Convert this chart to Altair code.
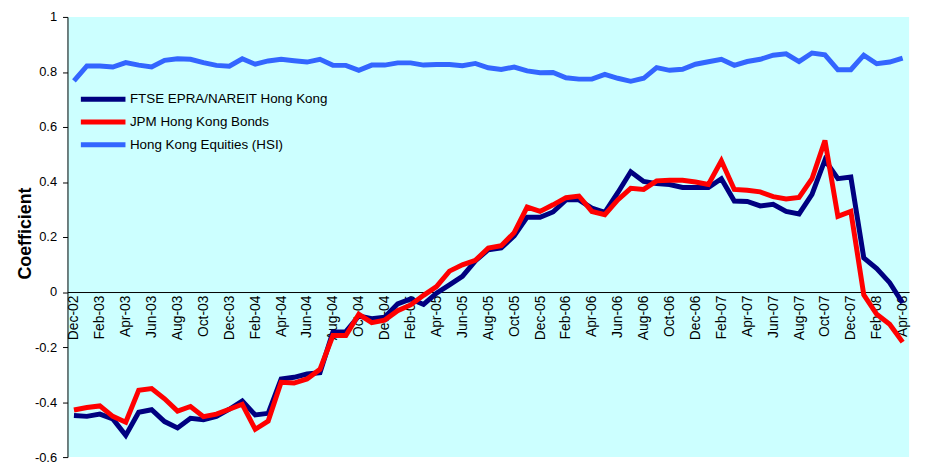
import altair as alt
import pandas as pd

months = [d.strftime("%b-%y") for d in pd.date_range("2002-12-01", periods=65, freq="MS")]

ftse = [-0.449, -0.452, -0.444, -0.461, -0.521, -0.437, -0.428, -0.471, -0.494, -0.459,
        -0.464, -0.452, -0.426, -0.396, -0.447, -0.441, -0.316, -0.310, -0.298, -0.293,
        -0.145, -0.144, -0.087, -0.097, -0.092, -0.043, -0.025, -0.045, -0.004, 0.026,
        0.057, 0.113, 0.154, 0.160, 0.204, 0.272, 0.272, 0.291, 0.335, 0.335,
        0.305, 0.290, 0.361, 0.437, 0.402, 0.394, 0.391, 0.380, 0.380, 0.380,
        0.412, 0.331, 0.329, 0.313, 0.319, 0.293, 0.284, 0.355, 0.480, 0.412,
        0.418, 0.124, 0.085, 0.034, -0.040]

jpm = [-0.429, -0.420, -0.414, -0.452, -0.473, -0.357, -0.351, -0.388, -0.433, -0.416,
       -0.453, -0.444, -0.426, -0.408, -0.499, -0.469, -0.328, -0.331, -0.316, -0.281,
       -0.158, -0.158, -0.081, -0.111, -0.102, -0.068, -0.047, -0.012, 0.020, 0.076,
       0.099, 0.115, 0.160, 0.168, 0.216, 0.309, 0.293, 0.317, 0.343, 0.349,
       0.293, 0.281, 0.335, 0.377, 0.373, 0.404, 0.406, 0.406, 0.400, 0.391,
       0.477, 0.373, 0.370, 0.364, 0.347, 0.338, 0.344, 0.412, 0.551, 0.275,
       0.293, -0.010, -0.081, -0.117, -0.182]

hsi = [0.768, 0.822, 0.822, 0.818, 0.834, 0.825, 0.818, 0.842, 0.848, 0.846,
       0.834, 0.824, 0.821, 0.848, 0.828, 0.840, 0.846, 0.841, 0.836, 0.846,
       0.824, 0.824, 0.806, 0.825, 0.825, 0.833, 0.833, 0.825, 0.827, 0.827,
       0.823, 0.831, 0.815, 0.809, 0.818, 0.804, 0.797, 0.798, 0.779, 0.774,
       0.774, 0.791, 0.777, 0.766, 0.777, 0.816, 0.806, 0.810, 0.828, 0.837,
       0.846, 0.824, 0.838, 0.846, 0.861, 0.866, 0.838, 0.869, 0.862, 0.808,
       0.808, 0.861, 0.830, 0.836, 0.850]

series_names = ["FTSE EPRA/NAREIT Hong Kong", "JPM Hong Kong Bonds", "Hong Kong Equities (HSI)"]
series_colors = ["#000080", "#FF0000", "#3366FF"]
y_ticks = [-0.6, -0.4, -0.2, 0, 0.2, 0.4, 0.6, 0.8, 1]

rows = []
for name, vals in zip(series_names, [ftse, jpm, hsi]):
    for m, v in zip(months, vals):
        rows.append({"month": m, "series": name, "value": v})
df = pd.DataFrame(rows)

W, H = 849, 444
TOP = 7
FONT = "Liberation Sans"
zero_px = H * (1.0 - 0.0) / 1.6
x_offset = -(H - zero_px)

chart = alt.Chart(df).mark_line(strokeWidth=5).encode(
    x=alt.X(
        "month:N",
        sort=months,
        scale=alt.Scale(type="point", padding=0.5),
        axis=alt.Axis(
            values=months[::2],
            labelAngle=-90,
            ticks=False,
            domain=True,
            domainColor="black",
            domainWidth=1,
            offset=x_offset,
            title=None,
            labelFont=FONT,
            labelFontSize=14,
            labelColor="black",
            labelPadding=3,
            grid=False,
        ),
    ),
    y=alt.Y(
        "value:Q",
        scale=alt.Scale(domain=[-0.6, 1], nice=False, zero=False),
        axis=alt.Axis(
            values=y_ticks,
            labelExpr="replace(format(datum.value, '.1~f'), '\u2212', '-')",
            title="Coefficient",
            titleFont=FONT,
            titleFontSize=18,
            titleFontWeight="bold",
            titleColor="black",
            titleX=-37,
            titleY=233 - 8 - TOP,
            titleAlign="center",
            titleBaseline="alphabetic",
            titleAngle=270,
            labelFont=FONT,
            labelFontSize=13,
            labelColor="black",
            labelPadding=6,
            tickSize=5,
            tickColor="black",
            domainColor="black",
            grid=False,
        ),
    ),
    color=alt.Color(
        "series:N",
        scale=alt.Scale(domain=series_names, range=series_colors),
        legend=alt.Legend(
            title=None,
            orient="none",
            legendX=26,
            legendY=73,
            symbolType="M-3,0H3",
            symbolSize=225,
            symbolStrokeWidth=5,
            labelFont=FONT,
            labelFontSize=13.5,
            labelColor="black",
            labelOffset=17,
            labelLimit=0,
            rowPadding=3,
            padding=0,
        ),
    ),
).properties(
    width=W,
    height=H,
    autosize=alt.AutoSizeParams(type="none"),
    padding={"left": 60, "top": TOP, "right": 12, "bottom": 10},
).configure_view(fill="#CCFFFF", stroke=None)

chart.save("out.html", embed_options={"renderer": "svg", "actions": False})
